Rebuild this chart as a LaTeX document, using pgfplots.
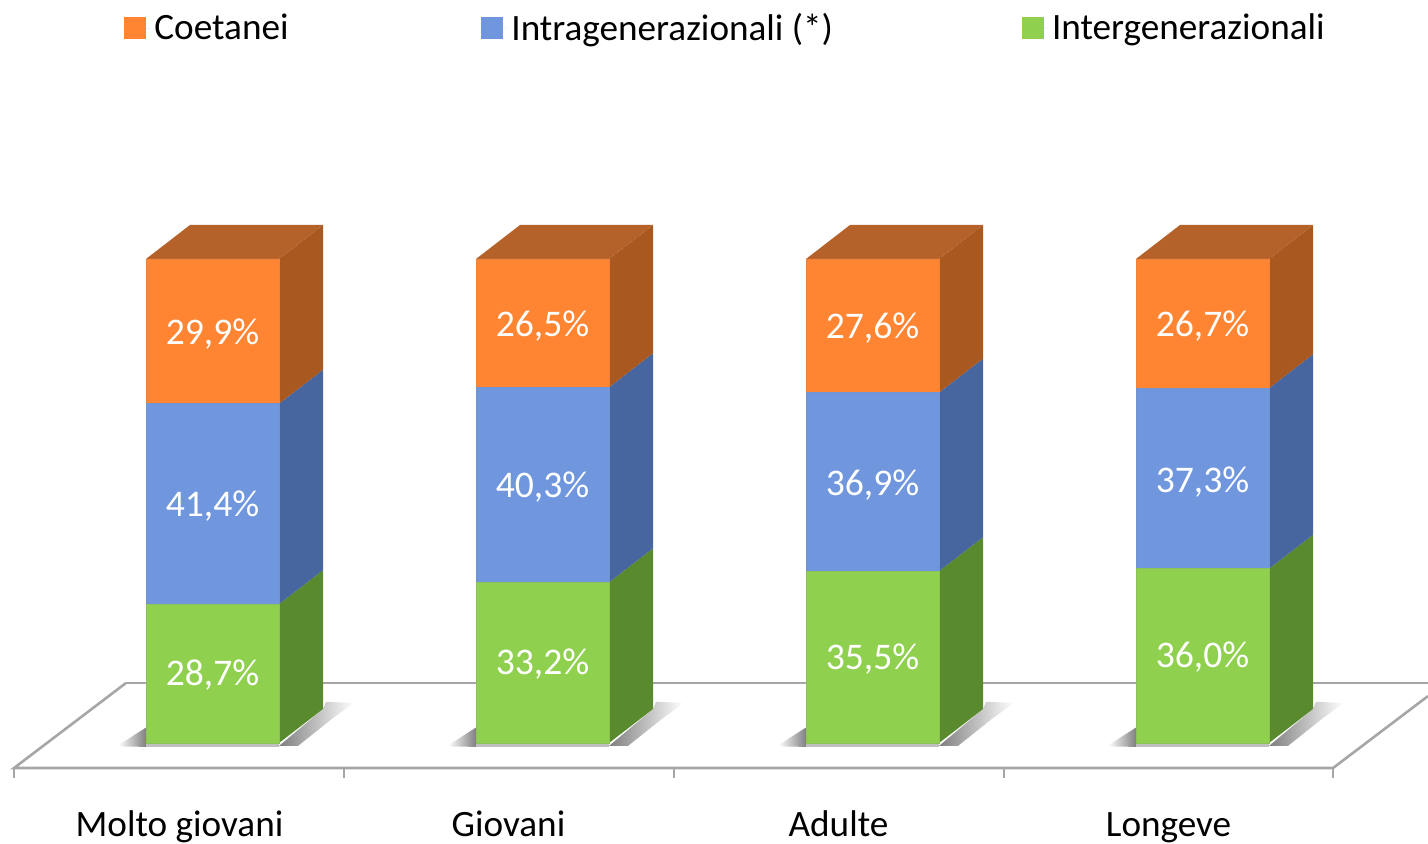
\documentclass[border=0pt]{standalone}
\usepackage{pgfplots}
\pgfplotsset{compat=1.18}
\usepackage{fontspec}
\setmainfont{Carlito}
\definecolor{oF}{HTML}{FF8533}\definecolor{oS}{HTML}{A9581F}\definecolor{oT}{HTML}{B5622A}
\definecolor{bF}{HTML}{7097DD}\definecolor{bS}{HTML}{47659E}
\definecolor{gF}{HTML}{8FD14F}\definecolor{gS}{HTML}{5A8A2E}
\definecolor{fl}{HTML}{A6A6A6}
\pgfplotsset{base/.style={
  at={(0,0)},anchor=south west,scale only axis,width=714pt,height=421.5pt,
  xmin=0,xmax=1428,ymin=-20.66,ymax=153.5,clip=false,
  axis line style={draw=none},major tick length=0pt,ytick=\empty}}
% side faces, top face and floor shadow of one column
\newcommand\column[4]{% left edge of front, green, blue, orange
  \pgfmathsetmacro\xa{#1+133}\pgfmathsetmacro\xb{#1+177}
  \pgfmathsetmacro\ya{#2}\pgfmathsetmacro\yb{#2+#3}\pgfmathsetmacro\yc{#2+#3+#4}
  \pgfmathsetmacro\yad{\ya+7.02}\pgfmathsetmacro\ybd{\yb+7.02}\pgfmathsetmacro\ycd{\yc+7.02}
  \pgfmathsetmacro\xl{#1+44}
  \pgfmathsetmacro\sa{#1-28}\pgfmathsetmacro\sc{#1+180}\pgfmathsetmacro\sd{#1+208}\pgfmathsetmacro\se{#1+152}\pgfmathsetmacro\sf{#1+186}
  \addplot[draw=none,left color=white,right color=black!50] coordinates {(\sa,-.5) (#1,3.2) (#1,-.8) (\sa,-.7)} --cycle;
  \addplot[draw=none,fill=black!25] coordinates {(#1,0) (\xa,0) (\xa,-.8) (#1,-.8)} --cycle;
  \addplot[draw=none,left color=black!50,middle color=black!45,right color=white] coordinates {(\xa,-.6) (\xb,7) (\sc,8.5) (\sd,8.3) (\sf,5) (\se,-.6)} --cycle;
  \addplot[draw=none,fill=gS] coordinates {(\xa,0) (\xb,7.02) (\xb,\yad) (\xa,\ya)} --cycle;
  \addplot[draw=none,fill=bS] coordinates {(\xa,\ya) (\xb,\yad) (\xb,\ybd) (\xa,\yb)} --cycle;
  \addplot[draw=none,fill=oS] coordinates {(\xa,\yb) (\xb,\ybd) (\xb,\ycd) (\xa,\yc)} --cycle;
  \addplot[draw=none,fill=oT] coordinates {(#1,\yc) (\xl,\ycd) (\xb,\ycd) (\xa,\yc)} --cycle;
}
\begin{document}
\begin{tikzpicture}
\useasboundingbox (0,0) rectangle (714pt,421.5pt);
\begin{axis}[base,xtick={179.5,508.5,838.5,1168.5},
  xticklabels={Molto giovani,Giovani,Adulte,Longeve},
  xticklabel style={anchor=base,yshift=3.5pt,font=\fontsize{18.6}{20}\selectfont}]
  % floor
  \addplot[fl,line width=1.3pt] coordinates {(126,12.4) (1428,12.4)};
  \addplot[fl,line width=1.3pt] coordinates {(126,12.4) (14,-5.17) (1333,-5.17) (1428,9.7)};
  \addplot[fl,line width=1pt] coordinates {(14,-5.17) (14,-7.2)};
  \addplot[fl,line width=1pt] coordinates {(344,-5.17) (344,-7.2)};
  \addplot[fl,line width=1pt] coordinates {(674,-5.17) (674,-7.2)};
  \addplot[fl,line width=1pt] coordinates {(1004,-5.17) (1004,-7.2)};
  \addplot[fl,line width=1pt] coordinates {(1333,-5.17) (1333,-7.2)};
  \column{146}{28.7}{41.4}{29.9}
  \column{476}{33.2}{40.3}{26.5}
  \column{806}{35.5}{36.9}{27.6}
  \column{1136}{36.0}{37.3}{26.7}
\end{axis}
\begin{axis}[base,xtick=\empty,ybar stacked,bar width=66.5pt,
  legend columns=3,
  legend style={at={(axis cs:124,147.7)},anchor=west,draw=none,fill=none,inner sep=0pt,outer sep=0pt,
    font=\fontsize{18.6}{20}\selectfont,
    /tikz/column 2/.style={column sep=94.2pt},
    /tikz/column 4/.style={column sep=92.3pt}},
  legend image code/.code={\path (0pt,0pt) rectangle (13.2pt,0pt);\fill[draw=none,#1] (0pt,-5.5pt) rectangle (11pt,5.5pt);},
  legend cell align=left]
  \addplot[draw=gF!80!gray,line width=.4pt,fill=gF,forget plot] coordinates {(212.5,28.7) (542.5,33.2) (872.5,35.5) (1202.5,36.0)};
  \addplot[draw=bF!85!gray,line width=.4pt,fill=bF,forget plot] coordinates {(212.5,41.4) (542.5,40.3) (872.5,36.9) (1202.5,37.3)};
  \addplot[draw=oF!85!gray,line width=.4pt,fill=oF,forget plot] coordinates {(212.5,29.9) (542.5,26.5) (872.5,27.6) (1202.5,26.7)};
  \addlegendimage{fill=oF,draw=none}\addlegendentry{Coetanei}
  \addlegendimage{fill=bF,draw=none}\addlegendentry{Intragenerazionali (*)}
  \addlegendimage{fill=gF,draw=none}\addlegendentry{Intergenerazionali}
\end{axis}
\begin{axis}[base,xtick=\empty]
  \tikzset{v/.style={text=white,font=\fontsize{18.8}{20}\selectfont,anchor=center,inner sep=0pt,yshift=-1.2pt}}
  \node[v] at (axis cs:212.5,14.5) {28,7\%};
  \node[v] at (axis cs:212.5,49.4) {41,4\%};
  \node[v] at (axis cs:212.5,84.9) {29,9\%};
  \node[v] at (axis cs:542.5,16.7) {33,2\%};
  \node[v] at (axis cs:542.5,53.3) {40,3\%};
  \node[v] at (axis cs:542.5,86.6) {26,5\%};
  \node[v] at (axis cs:872.5,17.8) {35,5\%};
  \node[v] at (axis cs:872.5,53.7) {36,9\%};
  \node[v] at (axis cs:872.5,86.2) {27,6\%};
  \node[v] at (axis cs:1202.5,18.2) {36,0\%};
  \node[v] at (axis cs:1202.5,54.5) {37,3\%};
  \node[v] at (axis cs:1202.5,86.6) {26,7\%};
\end{axis}
\end{tikzpicture}
\end{document}
